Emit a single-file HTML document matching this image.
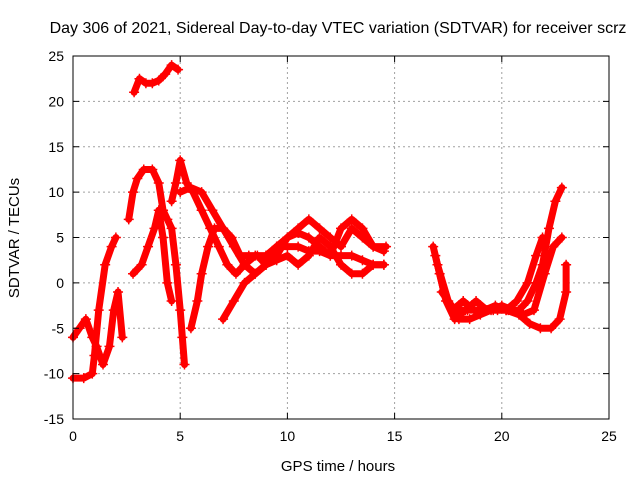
<!DOCTYPE html>
<html><head><meta charset="utf-8"><style>
body{margin:0;background:#fff;}
svg{display:block;font-family:"Liberation Sans",sans-serif;}
</style></head><body>
<svg id="chart" width="640" height="480">
<text x="338" y="33" font-size="16" text-anchor="middle">Day 306 of 2021, Sidereal Day-to-day VTEC variation (SDTVAR) for receiver scrz</text>
<text x="338" y="471" font-size="15" text-anchor="middle">GPS time / hours</text>
<text x="19" y="238" font-size="15" text-anchor="middle" transform="rotate(-90 19 238)">SDTVAR / TECUs</text>
<g id="grid"></g><g id="marks"></g>
<rect x="73" y="56" width="536" height="363" fill="none" stroke="#000" stroke-width="1"/>
<g id="ticks"></g>
</svg>
<script>
const xTicks=[0,5,10,15,20,25];
const yTicks=[-15,-10,-5,0,5,10,15,20,25];
const trackA=[[2.85,21],[3.1,22.5],[3.4,22],[3.7,22],[4,22.3],[4.3,23],[4.6,24],[4.9,23.5]];
const trackB=[[0,-10.5],[0.5,-10.5],[0.9,-10],[1.0,-8],[1.2,-3],[1.5,2],[1.8,4],[2.0,5]];
const trackC=[[0,-6],[0.3,-5],[0.6,-4],[0.9,-6],[1.1,-7],[1.4,-9],[1.7,-7],[1.9,-3],[2.1,-1],[2.3,-6]];
const trackD=[[2.6,7],[2.8,10],[3.0,11.5],[3.3,12.5],[3.7,12.5],[4.0,11],[4.2,8],[4.4,7],[4.6,6],[4.8,2],[5.0,-3],[5.1,-6],[5.2,-9]];
const trackE=[[2.8,1],[3.2,2],[3.5,4],[3.8,6],[4.0,8],[4.2,5],[4.4,0],[4.6,-2]];
const trackF=[[4.6,9],[4.8,11],[5.0,13.5],[5.3,11],[5.6,10],[6.0,8],[6.4,6],[6.8,4],[7.2,2],[7.6,1],[8.0,2],[8.5,3],[9.0,3],[9.5,4],[10,4],[10.5,4],[11,3.5],[11.5,3.5],[12,3],[12.5,3],[13,3],[13.5,2.5],[14,2],[14.5,2]];
const trackG=[[5.5,-5],[5.8,-2],[6.0,1],[6.3,4],[6.6,6],[7.0,6],[7.4,5],[7.8,3],[8.2,3],[8.6,3],[9.0,2],[9.5,3],[10,5],[10.5,6],[11,7],[11.5,6],[12,5],[12.5,4],[13,6],[13.5,5],[14,4],[14.6,4]];
const trackH=[[5.0,10],[5.5,10.5],[6,10],[6.5,8],[7,6],[7.5,4],[8,2],[8.5,1],[9,2],[9.5,4],[10,5],[10.5,5.5],[11,5],[11.5,4],[12,3],[12.5,6],[13,7],[13.5,6],[14,4],[14.5,3.5]];
const trackI=[[7,-4],[7.5,-2],[8,0],[8.5,1],[9,2],[9.5,2.5],[10,3],[10.5,2],[11,3],[11.5,5],[12,4],[12.5,2],[13,1],[13.5,1],[14,2],[14.5,2]];
const trackJ=[[16.8,4],[17.1,1],[17.4,-2],[17.8,-4],[18.3,-3],[18.8,-2],[19.3,-3],[19.8,-3],[20.3,-3],[20.8,-3],[21.2,-2],[21.6,0],[21.9,2],[22.2,6],[22.5,9],[22.8,10.5]];
const trackK=[[16.9,3],[17.3,-1],[17.7,-3],[18.2,-2],[18.7,-3],[19.2,-3],[19.7,-2.5],[20.2,-3],[20.7,-2],[21.2,0],[21.6,3],[21.9,5]];
const trackL=[[17,2],[17.5,-2],[18,-4],[18.5,-4],[19,-3.5],[19.5,-3],[20,-2.5],[20.5,-3],[21,-3.5],[21.5,-3],[22,1],[22.4,4],[22.8,5]];
const trackM=[[17.2,-1],[17.8,-3],[18.4,-3],[19,-3],[19.6,-3],[20.2,-3],[20.8,-3.5],[21.3,-4.5],[21.8,-5],[22.3,-5],[22.7,-4],[23,-1],[23,2]];
const tracks=[trackA,trackB,trackC,trackD,trackE,trackF,trackG,trackH,trackI,trackJ,trackK,trackL,trackM];
const NS="http://www.w3.org/2000/svg";
const X0=73,X1=609,Y0=419,Y1=56;
const sx=v=>X0+(v-0)/25*(X1-X0);
const sy=v=>Y0-(v+15)/40*(Y0-Y1);
const grid=document.getElementById('grid'),ticks=document.getElementById('ticks'),marks=document.getElementById('marks');
function mk(tag,attrs,parent){const e=document.createElementNS(NS,tag);for(const k in attrs)e.setAttribute(k,attrs[k]);parent.appendChild(e);return e;}
xTicks.forEach(t=>{const x=sx(t);
 if(t>0&&t<25){const g=mk('line',{x1:x,x2:x,y1:Y0,y2:Y1,stroke:'#a0a0a0','stroke-dasharray':'2,3'},grid);
 
 }
 mk('line',{x1:x,x2:x,y1:Y0,y2:Y0-6,stroke:'#000'},ticks);mk('line',{x1:x,x2:x,y1:Y1,y2:Y1+6,stroke:'#000'},ticks);
 const l=mk('text',{x:x,y:Y0+22,'font-size':14,'text-anchor':'middle'},ticks);l.textContent=t;
 
 });
yTicks.forEach(t=>{const y=sy(t);
 if(t>-15&&t<25){const g=mk('line',{x1:X0,x2:X1,y1:y,y2:y,stroke:'#a0a0a0','stroke-dasharray':'2,3'},grid);
 
 }
 mk('line',{x1:X0,x2:X0+6,y1:y,y2:y,stroke:'#000'},ticks);mk('line',{x1:X1,x2:X1-6,y1:y,y2:y,stroke:'#000'},ticks);
 const l=mk('text',{x:X0-9,y:y+5,'font-size':14,'text-anchor':'end'},ticks);l.textContent=t;
 
 });
tracks.forEach((tr,i)=>{
 const p=mk('polyline',{points:tr.map(d=>sx(d[0])+','+sy(d[1])).join(' '),fill:'none',stroke:'#f00','stroke-width':7,'stroke-linejoin':'round','stroke-linecap':'round'},marks);
 
 
 tr.forEach(d=>{const x=sx(d[0]),y=sy(d[1]);
  const m=mk('path',{d:`M${x-5},${y}H${x+5}M${x},${y-5}V${y+5}`,stroke:'#f00','stroke-width':1.5},marks);
  
  });
});
</script>
</body></html>
